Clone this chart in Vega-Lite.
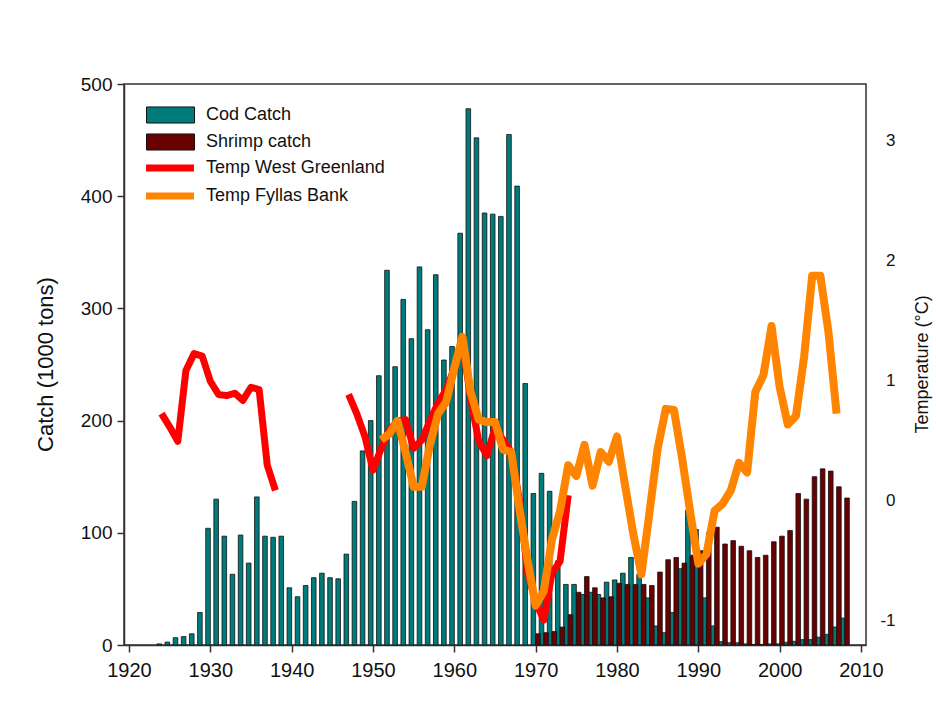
{
  "$schema": "https://vega.github.io/schema/vega-lite/v6.json",
  "width": 742,
  "height": 561,
  "autosize": {"type": "none"},
  "padding": {"left": 124, "top": 84, "right": 70, "bottom": 64},
  "background": "white",
  "config": {"view": {"stroke": "#333", "strokeWidth": 1.5}, "font": "Liberation Sans"},
  "datasets": {
    "catch": [
      {"year":1924,"series":"Cod Catch","value":1},{"year":1925,"series":"Cod Catch","value":2.6},{"year":1926,"series":"Cod Catch","value":6.5},{"year":1927,"series":"Cod Catch","value":7.5},{"year":1928,"series":"Cod Catch","value":10},{"year":1929,"series":"Cod Catch","value":29},
      {"year":1930,"series":"Cod Catch","value":104},{"year":1931,"series":"Cod Catch","value":130},{"year":1932,"series":"Cod Catch","value":97},{"year":1933,"series":"Cod Catch","value":63},{"year":1934,"series":"Cod Catch","value":98},{"year":1935,"series":"Cod Catch","value":73},{"year":1936,"series":"Cod Catch","value":132},{"year":1937,"series":"Cod Catch","value":97},{"year":1938,"series":"Cod Catch","value":96},{"year":1939,"series":"Cod Catch","value":97},
      {"year":1940,"series":"Cod Catch","value":51},{"year":1941,"series":"Cod Catch","value":43},{"year":1942,"series":"Cod Catch","value":53},{"year":1943,"series":"Cod Catch","value":60},{"year":1944,"series":"Cod Catch","value":64},{"year":1945,"series":"Cod Catch","value":60},{"year":1946,"series":"Cod Catch","value":59},{"year":1947,"series":"Cod Catch","value":81},{"year":1948,"series":"Cod Catch","value":128},{"year":1949,"series":"Cod Catch","value":173},
      {"year":1950,"series":"Cod Catch","value":200},{"year":1951,"series":"Cod Catch","value":240},{"year":1952,"series":"Cod Catch","value":334},{"year":1953,"series":"Cod Catch","value":248},{"year":1954,"series":"Cod Catch","value":308},{"year":1955,"series":"Cod Catch","value":273},{"year":1956,"series":"Cod Catch","value":337},{"year":1957,"series":"Cod Catch","value":281},{"year":1958,"series":"Cod Catch","value":330},{"year":1959,"series":"Cod Catch","value":254},
      {"year":1960,"series":"Cod Catch","value":266},{"year":1961,"series":"Cod Catch","value":367},{"year":1962,"series":"Cod Catch","value":478},{"year":1963,"series":"Cod Catch","value":452},{"year":1964,"series":"Cod Catch","value":385},{"year":1965,"series":"Cod Catch","value":384},{"year":1966,"series":"Cod Catch","value":382},{"year":1967,"series":"Cod Catch","value":455},{"year":1968,"series":"Cod Catch","value":409},{"year":1969,"series":"Cod Catch","value":233},
      {"year":1970,"series":"Cod Catch","value":135},{"year":1971,"series":"Cod Catch","value":153},{"year":1972,"series":"Cod Catch","value":137},{"year":1973,"series":"Cod Catch","value":75},{"year":1974,"series":"Cod Catch","value":54},{"year":1975,"series":"Cod Catch","value":54},{"year":1976,"series":"Cod Catch","value":45},{"year":1977,"series":"Cod Catch","value":47},{"year":1978,"series":"Cod Catch","value":45},{"year":1979,"series":"Cod Catch","value":56},
      {"year":1980,"series":"Cod Catch","value":58},{"year":1981,"series":"Cod Catch","value":64},{"year":1982,"series":"Cod Catch","value":78},{"year":1983,"series":"Cod Catch","value":63},{"year":1984,"series":"Cod Catch","value":42},{"year":1985,"series":"Cod Catch","value":17},{"year":1986,"series":"Cod Catch","value":11},{"year":1987,"series":"Cod Catch","value":29},{"year":1988,"series":"Cod Catch","value":68},{"year":1989,"series":"Cod Catch","value":120},
      {"year":1990,"series":"Cod Catch","value":103},{"year":1991,"series":"Cod Catch","value":42},{"year":1992,"series":"Cod Catch","value":17},{"year":1993,"series":"Cod Catch","value":3},{"year":1994,"series":"Cod Catch","value":2},{"year":1995,"series":"Cod Catch","value":2},{"year":1996,"series":"Cod Catch","value":1},{"year":1997,"series":"Cod Catch","value":0.5},{"year":1998,"series":"Cod Catch","value":0.5},{"year":1999,"series":"Cod Catch","value":1},
      {"year":2000,"series":"Cod Catch","value":1},{"year":2001,"series":"Cod Catch","value":2.4},{"year":2002,"series":"Cod Catch","value":3.3},{"year":2003,"series":"Cod Catch","value":4.8},{"year":2004,"series":"Cod Catch","value":4.8},{"year":2005,"series":"Cod Catch","value":7},{"year":2006,"series":"Cod Catch","value":9.5},{"year":2007,"series":"Cod Catch","value":16},{"year":2008,"series":"Cod Catch","value":24},
      {"year":1970,"series":"Shrimp catch","value":10},{"year":1971,"series":"Shrimp catch","value":11},{"year":1972,"series":"Shrimp catch","value":12},{"year":1973,"series":"Shrimp catch","value":16},{"year":1974,"series":"Shrimp catch","value":27},{"year":1975,"series":"Shrimp catch","value":47},{"year":1976,"series":"Shrimp catch","value":61},{"year":1977,"series":"Shrimp catch","value":51},{"year":1978,"series":"Shrimp catch","value":42},{"year":1979,"series":"Shrimp catch","value":43},
      {"year":1980,"series":"Shrimp catch","value":55},{"year":1981,"series":"Shrimp catch","value":54},{"year":1982,"series":"Shrimp catch","value":54},{"year":1983,"series":"Shrimp catch","value":54},{"year":1984,"series":"Shrimp catch","value":53},{"year":1985,"series":"Shrimp catch","value":65},{"year":1986,"series":"Shrimp catch","value":76},{"year":1987,"series":"Shrimp catch","value":78},{"year":1988,"series":"Shrimp catch","value":73},{"year":1989,"series":"Shrimp catch","value":80},
      {"year":1990,"series":"Shrimp catch","value":84},{"year":1991,"series":"Shrimp catch","value":100},{"year":1992,"series":"Shrimp catch","value":105},{"year":1993,"series":"Shrimp catch","value":90},{"year":1994,"series":"Shrimp catch","value":93},{"year":1995,"series":"Shrimp catch","value":88},{"year":1996,"series":"Shrimp catch","value":84},{"year":1997,"series":"Shrimp catch","value":78},{"year":1998,"series":"Shrimp catch","value":80},{"year":1999,"series":"Shrimp catch","value":92},
      {"year":2000,"series":"Shrimp catch","value":97},{"year":2001,"series":"Shrimp catch","value":102},{"year":2002,"series":"Shrimp catch","value":135},{"year":2003,"series":"Shrimp catch","value":130},{"year":2004,"series":"Shrimp catch","value":150},{"year":2005,"series":"Shrimp catch","value":157},{"year":2006,"series":"Shrimp catch","value":155},{"year":2007,"series":"Shrimp catch","value":141},{"year":2008,"series":"Shrimp catch","value":131}
    ],
    "temp": [
      {"year":1924,"series":"Temp West Greenland","seg":"a","value":0.72},{"year":1925,"series":"Temp West Greenland","seg":"a","value":0.61},{"year":1926,"series":"Temp West Greenland","seg":"a","value":0.49},{"year":1927,"series":"Temp West Greenland","seg":"a","value":1.08},{"year":1928,"series":"Temp West Greenland","seg":"a","value":1.22},{"year":1929,"series":"Temp West Greenland","seg":"a","value":1.2},{"year":1930,"series":"Temp West Greenland","seg":"a","value":0.99},{"year":1931,"series":"Temp West Greenland","seg":"a","value":0.88},{"year":1932,"series":"Temp West Greenland","seg":"a","value":0.87},{"year":1933,"series":"Temp West Greenland","seg":"a","value":0.89},{"year":1934,"series":"Temp West Greenland","seg":"a","value":0.83},{"year":1935,"series":"Temp West Greenland","seg":"a","value":0.94},{"year":1936,"series":"Temp West Greenland","seg":"a","value":0.92},{"year":1937,"series":"Temp West Greenland","seg":"a","value":0.29},{"year":1938,"series":"Temp West Greenland","seg":"a","value":0.08},
      {"year":1947,"series":"Temp West Greenland","seg":"b","value":0.88},{"year":1948,"series":"Temp West Greenland","seg":"b","value":0.72},{"year":1949,"series":"Temp West Greenland","seg":"b","value":0.53},{"year":1950,"series":"Temp West Greenland","seg":"b","value":0.25},{"year":1951,"series":"Temp West Greenland","seg":"b","value":0.43},{"year":1952,"series":"Temp West Greenland","seg":"b","value":0.58},{"year":1953,"series":"Temp West Greenland","seg":"b","value":0.66},{"year":1954,"series":"Temp West Greenland","seg":"b","value":0.67},{"year":1955,"series":"Temp West Greenland","seg":"b","value":0.43},{"year":1956,"series":"Temp West Greenland","seg":"b","value":0.5},{"year":1957,"series":"Temp West Greenland","seg":"b","value":0.66},{"year":1958,"series":"Temp West Greenland","seg":"b","value":0.81},{"year":1959,"series":"Temp West Greenland","seg":"b","value":0.92},{"year":1960,"series":"Temp West Greenland","seg":"b","value":1.1},{"year":1961,"series":"Temp West Greenland","seg":"b","value":1.31},{"year":1962,"series":"Temp West Greenland","seg":"b","value":0.85},{"year":1963,"series":"Temp West Greenland","seg":"b","value":0.49},{"year":1964,"series":"Temp West Greenland","seg":"b","value":0.37},{"year":1965,"series":"Temp West Greenland","seg":"b","value":0.6},{"year":1966,"series":"Temp West Greenland","seg":"b","value":0.5},{"year":1967,"series":"Temp West Greenland","seg":"b","value":0.4},{"year":1968,"series":"Temp West Greenland","seg":"b","value":0.0},{"year":1969,"series":"Temp West Greenland","seg":"b","value":-0.6},{"year":1970,"series":"Temp West Greenland","seg":"b","value":-0.85},{"year":1971,"series":"Temp West Greenland","seg":"b","value":-1.0},{"year":1972,"series":"Temp West Greenland","seg":"b","value":-0.61},{"year":1973,"series":"Temp West Greenland","seg":"b","value":-0.51},{"year":1974,"series":"Temp West Greenland","seg":"b","value":0.04},
      {"year":1951,"series":"Temp Fyllas Bank","seg":"c","value":0.5},{"year":1952,"series":"Temp Fyllas Bank","seg":"c","value":0.55},{"year":1953,"series":"Temp Fyllas Bank","seg":"c","value":0.66},{"year":1954,"series":"Temp Fyllas Bank","seg":"c","value":0.4},{"year":1955,"series":"Temp Fyllas Bank","seg":"c","value":0.11},{"year":1956,"series":"Temp Fyllas Bank","seg":"c","value":0.11},{"year":1957,"series":"Temp Fyllas Bank","seg":"c","value":0.46},{"year":1958,"series":"Temp Fyllas Bank","seg":"c","value":0.72},{"year":1959,"series":"Temp Fyllas Bank","seg":"c","value":0.82},{"year":1960,"series":"Temp Fyllas Bank","seg":"c","value":1.1},{"year":1961,"series":"Temp Fyllas Bank","seg":"c","value":1.36},{"year":1962,"series":"Temp Fyllas Bank","seg":"c","value":0.9},{"year":1963,"series":"Temp Fyllas Bank","seg":"c","value":0.67},{"year":1964,"series":"Temp Fyllas Bank","seg":"c","value":0.65},{"year":1965,"series":"Temp Fyllas Bank","seg":"c","value":0.65},{"year":1966,"series":"Temp Fyllas Bank","seg":"c","value":0.42},{"year":1967,"series":"Temp Fyllas Bank","seg":"c","value":0.4},{"year":1968,"series":"Temp Fyllas Bank","seg":"c","value":-0.07},{"year":1969,"series":"Temp Fyllas Bank","seg":"c","value":-0.5},{"year":1970,"series":"Temp Fyllas Bank","seg":"c","value":-0.88},{"year":1971,"series":"Temp Fyllas Bank","seg":"c","value":-0.76},{"year":1972,"series":"Temp Fyllas Bank","seg":"c","value":-0.33},{"year":1973,"series":"Temp Fyllas Bank","seg":"c","value":-0.09},{"year":1974,"series":"Temp Fyllas Bank","seg":"c","value":0.29},{"year":1975,"series":"Temp Fyllas Bank","seg":"c","value":0.2},{"year":1976,"series":"Temp Fyllas Bank","seg":"c","value":0.46},{"year":1977,"series":"Temp Fyllas Bank","seg":"c","value":0.12},{"year":1978,"series":"Temp Fyllas Bank","seg":"c","value":0.4},{"year":1979,"series":"Temp Fyllas Bank","seg":"c","value":0.32},{"year":1980,"series":"Temp Fyllas Bank","seg":"c","value":0.53},{"year":1981,"series":"Temp Fyllas Bank","seg":"c","value":0.12},{"year":1982,"series":"Temp Fyllas Bank","seg":"c","value":-0.28},{"year":1983,"series":"Temp Fyllas Bank","seg":"c","value":-0.62},{"year":1984,"series":"Temp Fyllas Bank","seg":"c","value":-0.1},{"year":1985,"series":"Temp Fyllas Bank","seg":"c","value":0.43},{"year":1986,"series":"Temp Fyllas Bank","seg":"c","value":0.76},{"year":1987,"series":"Temp Fyllas Bank","seg":"c","value":0.75},{"year":1988,"series":"Temp Fyllas Bank","seg":"c","value":0.35},{"year":1989,"series":"Temp Fyllas Bank","seg":"c","value":-0.1},{"year":1990,"series":"Temp Fyllas Bank","seg":"c","value":-0.53},{"year":1991,"series":"Temp Fyllas Bank","seg":"c","value":-0.45},{"year":1992,"series":"Temp Fyllas Bank","seg":"c","value":-0.09},{"year":1993,"series":"Temp Fyllas Bank","seg":"c","value":-0.03},{"year":1994,"series":"Temp Fyllas Bank","seg":"c","value":0.08},{"year":1995,"series":"Temp Fyllas Bank","seg":"c","value":0.31},{"year":1996,"series":"Temp Fyllas Bank","seg":"c","value":0.23},{"year":1997,"series":"Temp Fyllas Bank","seg":"c","value":0.9},{"year":1998,"series":"Temp Fyllas Bank","seg":"c","value":1.04},{"year":1999,"series":"Temp Fyllas Bank","seg":"c","value":1.45},{"year":2000,"series":"Temp Fyllas Bank","seg":"c","value":0.94},{"year":2001,"series":"Temp Fyllas Bank","seg":"c","value":0.63},{"year":2002,"series":"Temp Fyllas Bank","seg":"c","value":0.7},{"year":2003,"series":"Temp Fyllas Bank","seg":"c","value":1.19},{"year":2004,"series":"Temp Fyllas Bank","seg":"c","value":1.87},{"year":2005,"series":"Temp Fyllas Bank","seg":"c","value":1.87},{"year":2006,"series":"Temp Fyllas Bank","seg":"c","value":1.4},{"year":2007,"series":"Temp Fyllas Bank","seg":"c","value":0.72}
    ]
  },
  "layer": [
    {
      "data": {"name": "catch"},
      "encoding": {
        "x": {"field": "year", "type": "quantitative",
          "scale": {"domain": [1920, 2010], "nice": false, "zero": false},
          "axis": {"values": [1920,1930,1940,1950,1960,1970,1980,1990,2000,2010], "format": "d", "title": null, "grid": false,
            "labelFont": "Liberation Sans", "labelFontSize": 20, "labelColor": "#111", "labelPadding": 8, "labelFlush": false,
            "tickSize": 7, "tickColor": "#333", "tickWidth": 1.5, "domainColor": "#333", "domainWidth": 1.5}},
        "y": {"field": "value", "type": "quantitative",
          "scale": {"domain": [0, 500], "nice": false},
          "axis": {"orient": "left", "values": [0,100,200,300,400,500], "grid": false,
            "labelFont": "Liberation Sans", "labelFontSize": 19, "labelColor": "#111", "labelPadding": 5,
            "tickSize": 7, "tickColor": "#333", "tickWidth": 1.5, "domainColor": "#333", "domainWidth": 1.5,
            "title": "Catch (1000 tons)", "titleFont": "Liberation Sans", "titleFontSize": 22, "titleFontWeight": "normal", "titleColor": "#111",
            "titleAngle": 270, "titleX": -79, "titleY": 280, "titleAlign": "center", "titleBaseline": "middle"}},
        "fill": {"field": "series", "type": "nominal",
          "scale": {"domain": ["Cod Catch", "Shrimp catch"], "range": ["#007B7B", "#6B0000"]},
          "legend": {"title": null, "orient": "none", "legendX": 34, "legendY": 18.5, "padding": 0,
            "symbolType": "M-2,-0.67H2V0.67H-2Z", "symbolSize": 576, "symbolStrokeColor": "#111", "symbolStrokeWidth": 1, "symbolOpacity": 1,
            "rowPadding": 4, "labelOffset": 23, "labelFontSize": 18, "labelFont": "Liberation Sans", "labelColor": "#111", "labelLimit": 400}}
      },
      "layer": [
        {"transform": [{"filter": "datum.series === 'Cod Catch'"}],
         "mark": {"type": "bar", "width": 4.6, "xOffset": -2.3, "stroke": "#111", "strokeWidth": 0.8}},
        {"transform": [{"filter": "datum.series === 'Shrimp catch'"}],
         "mark": {"type": "bar", "width": 4.6, "xOffset": 2.3, "stroke": "#111", "strokeWidth": 0.8}}
      ]
    },
    {
      "data": {"name": "temp"},
      "encoding": {
        "x": {"field": "year", "type": "quantitative"},
        "y": {"field": "value", "type": "quantitative",
          "scale": {"domain": [-1.208, 3.467], "nice": false, "zero": false},
          "axis": {"orient": "right", "values": [-1,0,1,2,3], "grid": false, "domain": false, "ticks": false,
            "labelExpr": "replace(datum.label, '\u2212', '-')",
            "labelFont": "Liberation Sans", "labelFontSize": 17, "labelColor": "#111", "labelAlign": "right", "labelPadding": 29,
            "title": "Temperature (°C)", "titleFont": "Liberation Sans", "titleFontSize": 18, "titleFontWeight": "normal", "titleColor": "#111",
            "titleAngle": 270, "titleX": 56, "titleY": 280, "titleAlign": "center", "titleBaseline": "middle"}},
        "stroke": {"field": "series", "type": "nominal",
          "scale": {"domain": ["Temp West Greenland", "Temp Fyllas Bank"], "range": ["#FF0000", "#FF8400"]},
          "legend": {"title": null, "orient": "none", "legendX": 32, "legendY": 70, "padding": 0,
            "symbolType": "M-2.286,0H2.286", "symbolSize": 441, "symbolStrokeWidth": 7, "symbolOpacity": 1,
            "rowPadding": 0, "labelOffset": 22, "labelFontSize": 18, "labelFont": "Liberation Sans", "labelColor": "#111", "labelLimit": 400}},
        "detail": {"field": "seg"}
      },
      "layer": [
        {"transform": [{"filter": "datum.series === 'Temp West Greenland'"}],
         "mark": {"type": "line", "strokeWidth": 7, "strokeJoin": "round", "strokeCap": "butt"}},
        {"transform": [{"filter": "datum.series === 'Temp Fyllas Bank'"}],
         "mark": {"type": "line", "strokeWidth": 8, "strokeJoin": "round", "strokeCap": "butt"}}
      ]
    }
  ],
  "resolve": {"scale": {"y": "independent"}}
}
